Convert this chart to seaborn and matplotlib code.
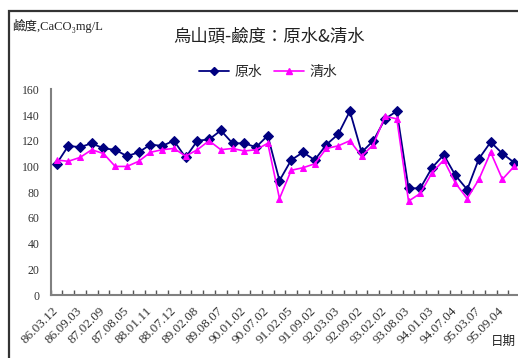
import numpy as np
import pandas as pd
import seaborn as sns
import matplotlib
matplotlib.use("Agg")
import matplotlib.pyplot as plt
from matplotlib.patches import Rectangle
from matplotlib.lines import Line2D

# Alkalinity (CaCO3 mg/L) at the 烏山頭 plant, raw water vs treated water
raw_water = [102, 116, 115, 118, 114, 113, 108, 111, 117, 116,
             120, 107, 120, 121, 128, 118, 118, 115, 124, 89,
             105, 111, 105, 117, 125, 143, 111, 120, 137, 143,
             83, 83, 99, 109, 93, 82, 106, 119, 110, 103]
clear_water = [105, 104, 107, 113, 110, 100, 100, 104, 111, 113,
               114, 108, 113, 120, 113, 114, 112, 113, 118, 75,
               97, 99, 102, 114, 116, 120, 108, 117, 139, 137,
               73, 79, 95, 105, 87, 75, 90, 111, 90, 100]
# dates printed under every second sample
date_labels = ["86.03.12", "86.09.03", "87.02.09", "87.08.05", "88.01.11",
               "88.07.12", "89.02.08", "89.08.07", "90.01.02", "90.07.02",
               "91.02.05", "91.09.02", "92.03.03", "92.09.02", "93.02.02",
               "93.08.03", "94.01.03", "94.07.04", "95.03.07", "95.09.04"]
y_ticks = [0, 20, 40, 60, 80, 100, 120, 140, 160]

series_names = ["原水", "清水"]
colors = {"原水": "#000080", "清水": "#FF00FF"}

sns.set_theme(style="white")
cjk = ["Noto Sans CJK TC", "DejaVu Sans"]
serif = ["Liberation Serif", "DejaVu Serif", "Noto Sans CJK TC"]
plt.rcParams["font.family"] = cjk

n = len(raw_water)
idx = np.arange(n)
df = pd.DataFrame({
    "idx": np.concatenate([idx, idx]),
    "value": raw_water + clear_water,
    "series": [series_names[0]] * n + [series_names[1]] * n,
})

fig = plt.figure(figsize=(5.18, 3.58), dpi=100)
fig.patch.set_facecolor("white")
ax = fig.add_axes([50.7 / 518, 1 - 295 / 358, 469.3 / 518, 205.7 / 358])

sns.lineplot(data=df[df.series == "原水"], x="idx", y="value", ax=ax,
             color=colors["原水"], marker="D", markersize=5.2,
             markeredgecolor=colors["原水"], linewidth=1.3, legend=False)
sns.lineplot(data=df[df.series == "清水"], x="idx", y="value", ax=ax,
             color=colors["清水"], marker="^", markersize=5,
             markeredgecolor=colors["清水"], linewidth=1.2, legend=False)

ax.set_xlim(-0.5, n - 0.5)
ax.set_ylim(0, 160)
ax.set_xlabel("")
ax.set_ylabel("")

# category labels on every second sample, tick marks between categories
ax.set_xticks(np.arange(0, n, 2))
ax.set_xticklabels(date_labels, rotation=45, ha="right", va="center",
                   rotation_mode="anchor", fontsize=9.5, family=serif,
                   color="#333333")
ax.set_xticks(np.arange(-0.5, n, 1), minor=True)
ax.tick_params(axis="x", which="major", length=0, pad=10)
ax.tick_params(axis="x", which="minor", length=3.5, direction="in",
               color="#555555", width=1, bottom=True)
ax.set_yticks(y_ticks)
ax.set_yticklabels([str(v) for v in y_ticks], fontsize=8.5, family=serif,
                   color="#333333")
ax.tick_params(axis="y", length=0, pad=8)

for side in ["top", "right"]:
    ax.spines[side].set_visible(False)
for side in ["left", "bottom"]:
    ax.spines[side].set_color("#808080")
    ax.spines[side].set_linewidth(1.5)

# chart area border
fig.patches.append(Rectangle((8.5 / 518, -0.2), 1.3, 0.2 + 1 - 10.7 / 358,
                             transform=fig.transFigure, fill=False,
                             edgecolor="#333333", linewidth=1.6, zorder=0))

fig.text(269.5 / 518, 1 - 37 / 358, "烏山頭-鹼度：原水&清水", ha="center",
         va="center", fontsize=12.5, family=cjk, color="#222222")
fig.text(12 / 518, 1 - 26 / 358, "鹼度,CaCO₃mg/L", ha="left", va="center",
         fontsize=9, family=serif, color="#222222")
fig.text(516 / 518, 1 - 341 / 358, "日期", ha="right", va="center",
         fontsize=9, family=cjk, color="#222222")

handles = [
    Line2D([], [], color=colors["原水"], marker="D", markersize=4.5,
           linewidth=1.3),
    Line2D([], [], color=colors["清水"], marker="^", markersize=4.5,
           linewidth=1.2),
]
fig.legend(handles, series_names, loc="center",
           bbox_to_anchor=(268 / 518, 1 - 72 / 358), ncol=2, frameon=False,
           fontsize=10, handlelength=2.2, handletextpad=0.4,
           columnspacing=0.8, prop={"family": cjk, "size": 10})

fig.savefig("out.png", dpi=100, facecolor="white")
